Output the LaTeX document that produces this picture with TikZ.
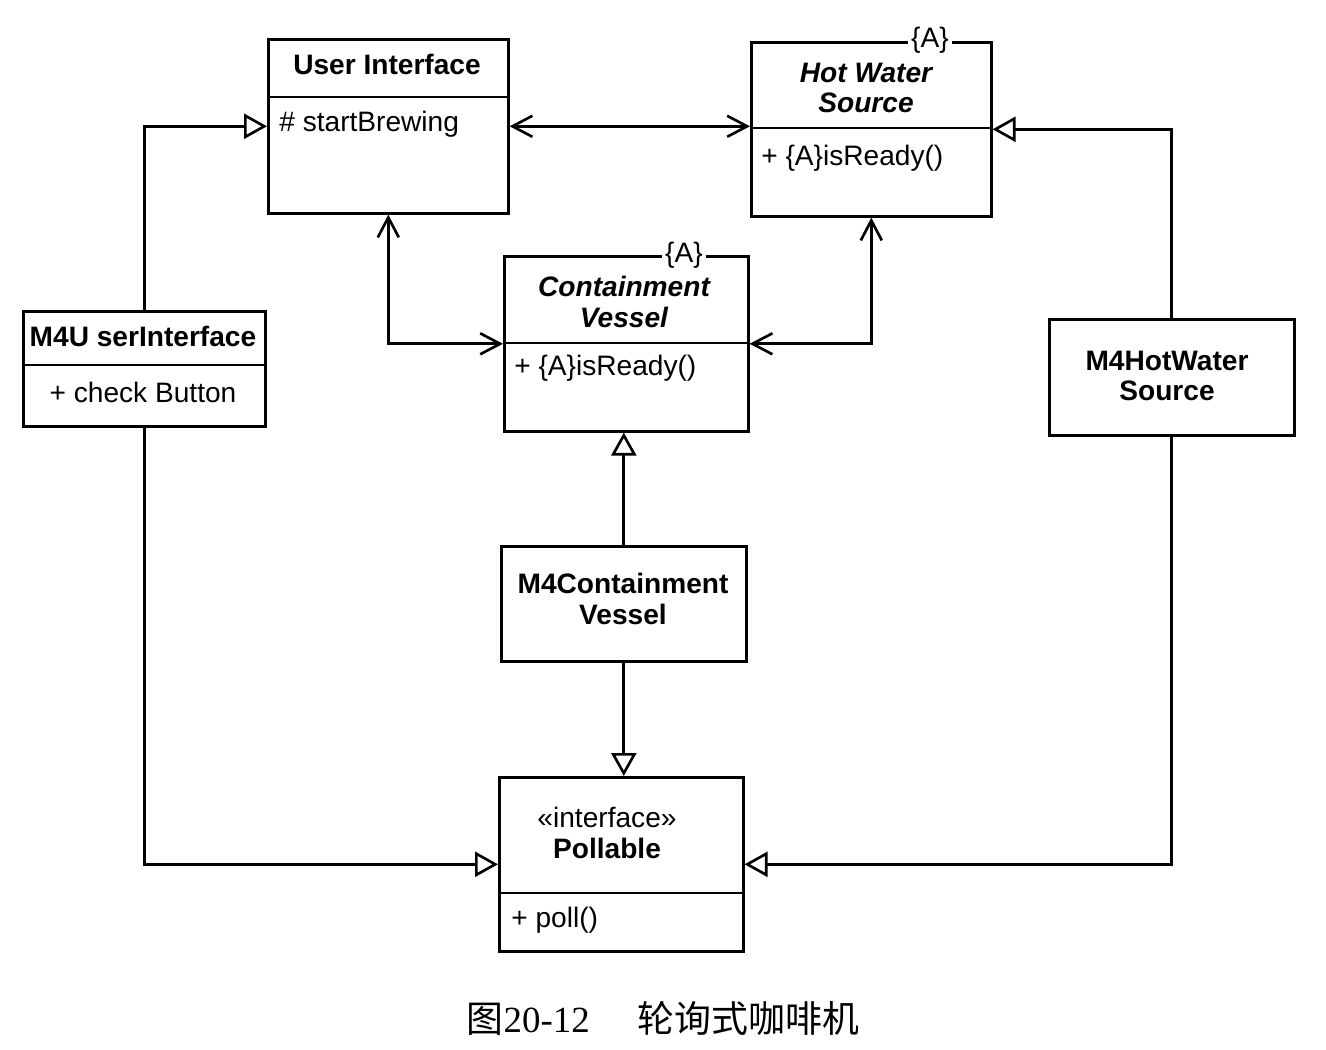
\documentclass[tikz,border=0pt]{standalone}
\usepackage{fontspec}
\setmainfont{Liberation Sans}
\newfontfamily\cjk{Noto Sans CJK SC}
\newfontfamily\capserif{Liberation Serif}
\usetikzlibrary{arrows.meta}
\begin{document}
\begin{tikzpicture}[x=0.02cm, y=-0.02cm,
  umlbox/.style={draw, line width=1.5pt, rectangle, anchor=north west, inner sep=0pt},
  divider/.style={line width=1.5pt},
  txt/.style={font=\fontsize{16}{17.6}\selectfont, inner sep=0pt, align=center},
  ttl/.style={txt, font=\fontsize{16}{17.6}\selectfont\bfseries},
  ittl/.style={txt, font=\fontsize{16}{17.6}\selectfont\bfseries\itshape},
  tag/.style={txt, fill=white, inner xsep=2pt, inner ysep=1pt},
  gen/.style={line width=1.5pt, -{Triangle[open, length=0.46cm, width=0.5cm, line width=1.5pt]}},
  assoc/.style={line width=1.5pt, {Straight Barb[length=0.4cm, width=0.42cm, line width=1.5pt]}-{Straight Barb[length=0.4cm, width=0.42cm, line width=1.5pt]}}
]
\fill[white] (0,0) rectangle (1326,1050);
\useasboundingbox (0,0) rectangle (1326,1050);

% boxes
\node[umlbox, minimum width=4.8cm, minimum height=3.48cm] (ui) at (267,38) {};
\node[umlbox, minimum width=4.8cm, minimum height=3.48cm] (hws) at (750,41) {};
\node[umlbox, minimum width=4.88cm, minimum height=3.5cm] (cv) at (503,255) {};
\node[umlbox, minimum width=4.84cm, minimum height=2.3cm] (m4ui) at (22,310) {};
\node[umlbox, minimum width=4.9cm, minimum height=2.32cm] (m4hws) at (1048,318) {};
\node[umlbox, minimum width=4.9cm, minimum height=2.3cm] (m4cv) at (500,545) {};
\node[umlbox, minimum width=4.88cm, minimum height=3.48cm] (poll) at (498,776) {};

% dividers
\draw[divider] ([yshift=-1.18cm]ui.north west) -- ([yshift=-1.18cm]ui.north east);
\draw[divider] ([yshift=-1.74cm]hws.north west) -- ([yshift=-1.74cm]hws.north east);
\draw[divider] ([yshift=-1.76cm]cv.north west) -- ([yshift=-1.76cm]cv.north east);
\draw[divider] ([yshift=-1.1cm]m4ui.north west) -- ([yshift=-1.1cm]m4ui.north east);
\draw[divider] ([yshift=-2.34cm]poll.north west) -- ([yshift=-2.34cm]poll.north east);

% texts
\node[ttl] (uit) at (387,64) {User Interface};
\node[txt, anchor=west] (uia) at (279,124) {\# startBrewing};
\node[ittl] (hwst) at (866,88) {Hot Water\\Source};
\node[txt, anchor=west] (hwsa) at (761,158) {+ \{A\}isReady()};
\node[tag] (hwsA) at (930,40) {\{A\}};
\node[ittl] (cvt) at (624,302) {Containment\\Vessel};
\node[txt, anchor=west] (cva) at (514,368) {+ \{A\}isReady()};
\node[tag] (cvA) at (684,255) {\{A\}};
\node[ttl] (m4uit) at (143,336) {M4U serInterface};
\node[txt] (m4uia) at (143,392) {+ check Button};
\node[ttl] (m4hwst) at (1167,376) {M4HotWater\\Source};
\node[ttl] (m4cvt) at (623,599) {M4Containment\\Vessel};
\node[txt] (pollt) at (607,833) {«interface»\\\textbf{Pollable}};
\node[txt, anchor=west] (polla) at (511,920) {+ poll()};

% connectors
\draw[gen] (m4ui.north) |- (ui.west);
\draw[assoc] (ui.east) -- (ui.east -| hws.west);
\draw[assoc] (ui.south) |- (cv.west);
\draw[assoc] (hws.south) |- (cv.east);
\draw[gen] (m4hws.north) |- (hws.east);
\draw[gen] (m4cv.north) -- (m4cv.north |- cv.south);
\draw[gen] (m4cv.south) -- (m4cv.south |- poll.north);
\draw[gen] (m4ui.south) |- (poll.west);
\draw[gen] (m4hws.south) |- (poll.east);

% caption
\node[inner sep=0pt, font=\fontsize{21}{24}\selectfont] (cap) at (663,1018)
  {{\cjk 图}{\capserif 20-12}\hspace{1.3em}{\cjk 轮询式咖啡机}};
\end{tikzpicture}
\end{document}
